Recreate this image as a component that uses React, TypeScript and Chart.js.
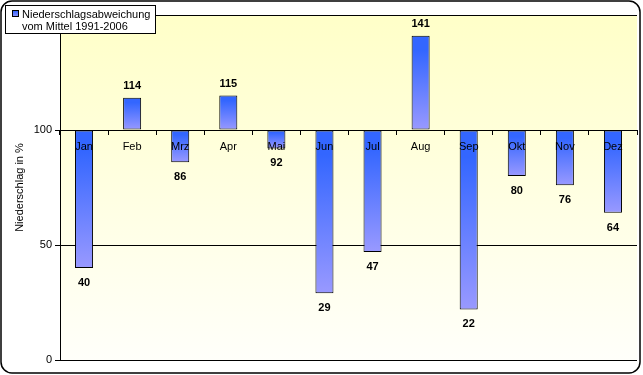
import React, { useEffect, useRef } from 'react';
import { Chart, registerables } from 'chart.js';

Chart.register(...registerables);

const categories = ['Jan', 'Feb', 'Mrz', 'Apr', 'Mai', 'Jun', 'Jul', 'Aug', 'Sep', 'Okt', 'Nov', 'Dez'];
const values = [40, 114, 86, 115, 92, 29, 47, 141, 22, 80, 76, 64];
const seriesLabel = ['Niederschlagsabweichung', 'vom Mittel 1991-2006'];
const yTicks = [0, 50, 100, 150];
const baseValue = 100;
const yTitle = 'Niederschlag in %';

const FONT = "'Liberation Sans', Arial, sans-serif";
const BLUE = '#3366ff';
const LAVENDER = '#9999ff';

function barGradient(ctx: CanvasRenderingContext2D, top: number, bottom: number) {
  const g = ctx.createLinearGradient(0, top, 0, bottom);
  g.addColorStop(0, BLUE);
  g.addColorStop(0.15, BLUE);
  g.addColorStop(1, LAVENDER);
  return g;
}

const plotBackground = {
  id: 'plotBackground',
  beforeDraw(chart: any) {
    const { ctx, chartArea } = chart;
    if (!chartArea) return;
    ctx.save();
    ctx.fillStyle = '#ffffff';
    ctx.fillRect(0, 0, chart.width, chart.height);
    const g = ctx.createLinearGradient(0, chartArea.top, 0, chartArea.bottom);
    g.addColorStop(0, '#ffffc8');
    g.addColorStop(1, '#fffffa');
    ctx.fillStyle = g;
    ctx.fillRect(chartArea.left, chartArea.top, chartArea.right - chartArea.left, chartArea.bottom - chartArea.top);
    ctx.restore();
  },
};

const valueLabels = {
  id: 'valueLabels',
  afterDatasetsDraw(chart: any) {
    const { ctx } = chart;
    const meta = chart.getDatasetMeta(0);
    ctx.save();
    ctx.font = `bold 11px ${FONT}`;
    ctx.fillStyle = '#000';
    ctx.textAlign = 'center';
    ctx.textBaseline = 'alphabetic';
    meta.data.forEach((bar: any, i: number) => {
      const v = values[i];
      const { x, y } = bar.getProps(['x', 'y'], true);
      if (v >= baseValue) ctx.fillText(String(v), x, y - 9);
      else ctx.fillText(String(v), x, y + 18);
    });
    ctx.restore();
  },
};

const legendAndFrame = {
  id: 'legendAndFrame',
  afterDraw(chart: any) {
    const { ctx } = chart;
    ctx.save();
    // legend box
    ctx.fillStyle = '#ffffff';
    ctx.fillRect(5, 5, 151, 29);
    ctx.strokeStyle = '#000';
    ctx.lineWidth = 1;
    ctx.strokeRect(5.5, 5.5, 150, 28);
    // marker
    ctx.fillStyle = barGradient(ctx, 10, 17);
    ctx.fillRect(12, 10, 7, 7);
    ctx.strokeStyle = '#000';
    ctx.strokeRect(12.5, 10.5, 6, 6);
    ctx.fillStyle = '#000';
    ctx.font = `11px ${FONT}`;
    ctx.textAlign = 'left';
    ctx.textBaseline = 'alphabetic';
    ctx.fillText(seriesLabel[0], 22, 17.5);
    ctx.fillText(seriesLabel[1], 22, 30);
    // outer rounded frame
    const x0 = 1, y0 = 1, x1 = 640, y1 = 373, r = 11;
    ctx.lineWidth = 1.5;
    ctx.beginPath();
    ctx.moveTo(x0 + r, y0);
    ctx.lineTo(x1 - r, y0);
    ctx.arcTo(x1, y0, x1, y0 + r, r);
    ctx.lineTo(x1, y1 - r);
    ctx.arcTo(x1, y1, x1 - r, y1, r);
    ctx.lineTo(x0 + r, y1);
    ctx.arcTo(x0, y1, x0, y1 - r, r);
    ctx.lineTo(x0, y0 + r);
    ctx.arcTo(x0, y0, x0 + r, y0, r);
    ctx.closePath();
    ctx.stroke();
    ctx.restore();
  },
};

export default function App() {
  const canvasRef = useRef<HTMLCanvasElement | null>(null);

  useEffect(() => {
    document.body.style.margin = '0';
    const canvas = canvasRef.current;
    if (!canvas) return;
    const chart = new Chart(canvas, {
      type: 'bar',
      data: {
        labels: categories,
        datasets: [
          {
            label: seriesLabel.join(' '),
            data: values,
            base: baseValue,
            borderColor: '#000',
            borderWidth: 1,
            borderSkipped: false,
            categoryPercentage: 1,
            barPercentage: 0.375,
            backgroundColor: (c: any) => {
              const ch = c.chart;
              const ys = ch.scales && ch.scales.y;
              if (!ch.chartArea || !ys || c.raw === undefined) return BLUE;
              const v = c.raw as number;
              const top = ys.getPixelForValue(Math.max(v, baseValue));
              const bottom = ys.getPixelForValue(Math.min(v, baseValue));
              return barGradient(ch.ctx, top, bottom);
            },
          } as any,
        ],
      },
      options: {
        responsive: false,
        animation: false,
        devicePixelRatio: 1,
        layout: { padding: { left: 0, top: 15, right: 6, bottom: 15 } },
        plugins: {
          legend: { display: false },
          tooltip: { enabled: false },
        },
        scales: {
          x: {
            position: { y: baseValue } as any,
            offset: true,
            grid: {
              drawOnChartArea: false,
              drawTicks: true,
              tickLength: 4,
              color: '#000',
              offset: true,
              z: 1,
            },
            border: { display: true, color: '#000', width: 1, z: 1 },
            ticks: {
              color: '#000',
              font: { family: FONT, size: 11 },
              padding: 6,
              maxRotation: 0,
              autoSkip: false,
              z: 1,
            },
            afterFit: (s: any) => {
              s.height = 0;
            },
          },
          y: {
            min: yTicks[0],
            max: yTicks[yTicks.length - 1],
            afterBuildTicks: (s: any) => {
              s.ticks = yTicks.map((v) => ({ value: v }));
            },
            ticks: {
              color: '#000',
              font: { family: FONT, size: 11 },
              padding: 3,
              callback: (v: any) => (v === yTicks[yTicks.length - 1] ? '' : String(v)),
            },
            grid: { color: '#000', tickLength: 5, drawTicks: true },
            border: { display: true, color: '#000' },
            title: {
              display: true,
              text: yTitle,
              color: '#000',
              font: { family: FONT, size: 11 },
              padding: { top: 13, bottom: 0 },
            },
            afterFit: (s: any) => {
              s.width = 60;
            },
          },
        },
      },
      plugins: [plotBackground, valueLabels, legendAndFrame],
    });
    return () => chart.destroy();
  }, []);

  return (
    <div style={{ width: 643, height: 375 }}>
      <canvas ref={canvasRef} width={643} height={375} style={{ display: 'block', width: 643, height: 375 }} />
    </div>
  );
}
